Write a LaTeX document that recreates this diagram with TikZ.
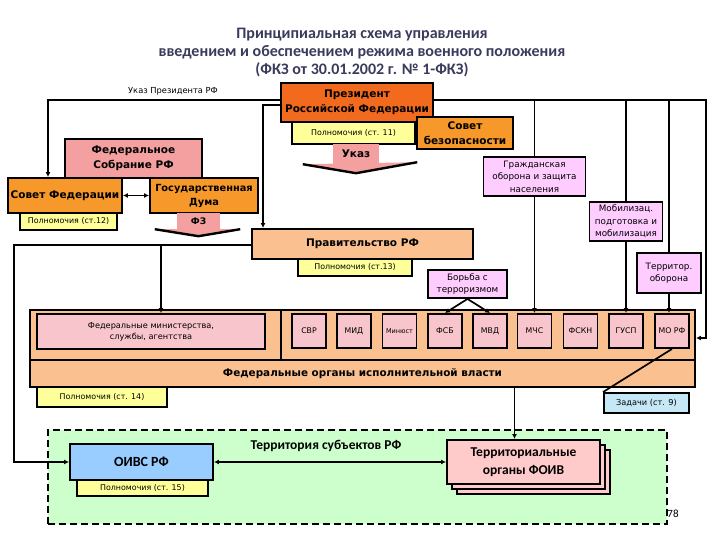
\documentclass[tikz,border=0pt]{standalone}
\usepackage{fontspec}
\setmainfont{Carlito}
\newfontfamily\vfont{DejaVu Sans}
\usetikzlibrary{arrows.meta}

\definecolor{titlecol}{HTML}{3A3A5C}
\definecolor{presred}{HTML}{F26A1E}
\definecolor{orangebox}{HTML}{F7982A}
\definecolor{salmon}{HTML}{F4A0A0}
\definecolor{peach}{HTML}{FAC08F}
\definecolor{polyel}{HTML}{FFFF99}
\definecolor{violet}{HTML}{FFCCFF}
\definecolor{minpink}{HTML}{F8C5CC}
\definecolor{zadblue}{HTML}{C6E8F6}
\definecolor{oivsblue}{HTML}{99CCFF}
\definecolor{greenbg}{HTML}{CCFFCC}
\definecolor{terrpink}{HTML}{FFCACA}

\begin{document}
\begin{tikzpicture}[x=1pt,y=-1pt,
  box/.style={draw, line width=1.9pt, inner sep=0pt, align=center},
  bigbox/.style={box, font=\vfont\bfseries\fontsize{10.5}{15}\selectfont},
  pol/.style={box, fill=polyel, font=\vfont\fontsize{7.9}{9}\selectfont},
  task/.style={box, fill=violet, font=\vfont\fontsize{8.8}{12.5}\selectfont},
  organ/.style={box, fill=minpink, minimum width=34pt, minimum height=34pt,
    font=\vfont\fontsize{7.8}{9}\selectfont},
  ln/.style={line width=1.7pt},
  arr/.style={line width=1.7pt, -{Latex[length=5pt,width=5pt]}},
  darr/.style={line width=1.7pt, {Latex[length=5pt,width=5pt]}-{Latex[length=5pt,width=5pt]}}]
\useasboundingbox (0,0) rectangle (720,540);

%title
\node[text=titlecol, font=\bfseries\fontsize{16}{18}\selectfont, align=center] (title) at (362,53)
  {Принципиальная схема управления\\введением и обеспечением режима военного положения\\(ФКЗ от 30.01.2002 г. № 1-ФКЗ)};

%president and upper part
\node[bigbox, fill=presred, minimum width=152pt, minimum height=39pt] (pres) at (357,102.5) {Президент\\Российской Федерации};
\node[pol, minimum width=123pt, minimum height=22pt] (pol11) at (353.5,133) {Полномочия (ст. 11)};
\node[bigbox, fill=orangebox, minimum width=96pt, minimum height=32pt] (sb) at (465,133) {Совет\\безопасности};
\node[font=\vfont\fontsize{8.3}{9}\selectfont] (ukazlbl) at (173,91) {Указ Президента РФ};

\node[fill=salmon, inner sep=0pt, minimum width=46pt, minimum height=20pt, font=\vfont\bfseries\fontsize{10.5}{11}\selectfont] (ukaz) at (356,154) {Указ};
\fill[salmon] ([xshift=-30pt]ukaz.south west) -- ([yshift=-9pt]ukaz.south) -- ([xshift=38pt,yshift=2pt]ukaz.south east) -- cycle;
\draw[line width=2.4pt] ([xshift=-30pt]ukaz.south west) -- ([yshift=-9pt]ukaz.south) -- ([xshift=38pt,yshift=2pt]ukaz.south east);

\node[bigbox, fill=salmon, minimum width=137pt, minimum height=39pt] (fs) at (133.5,158.5) {Федеральное\\Собрание РФ};
\node[bigbox, fill=orangebox, minimum width=114pt, minimum height=35pt] (sf) at (65,195.5) {Совет Федерации};
\node[pol, minimum width=97pt, minimum height=17pt] (pol12) at (68.5,221.5) {Полномочия (ст.12)};
\node[bigbox, fill=orangebox, minimum width=108pt, minimum height=35pt, font=\vfont\bfseries\fontsize{9.8}{14}\selectfont] (gd) at (204,195.5) {Государственная\\Дума};
\node[fill=salmon, inner sep=0pt, minimum width=43pt, minimum height=16pt, font=\vfont\bfseries\fontsize{9}{10}\selectfont] (fz) at (198.5,221) {ФЗ};
\fill[salmon] ([xshift=-22pt]fz.south west) -- ([yshift=-7pt]fz.south) -- ([xshift=20pt]fz.south east) -- cycle;
\draw[line width=2.4pt] ([xshift=-22pt]fz.south west) -- ([yshift=-7pt]fz.south) -- ([xshift=20pt]fz.south east);

\node[bigbox, fill=peach, minimum width=221pt, minimum height=30pt] (prav) at (362.5,244) {Правительство РФ};
\node[pol, minimum width=114pt, minimum height=17pt] (pol13) at (355,267.5) {Полномочия (ст.13)};

\node[task, minimum width=79pt, minimum height=28pt] (terror) at (467.5,284) {Борьба с\\терроризмом};
\node[task, minimum width=102pt, minimum height=39pt] (go) at (534.5,176.5) {Гражданская\\оборона и защита\\населения};
\node[task, minimum width=73pt, minimum height=39pt] (mob) at (626,221.5) {Мобилизац.\\подготовка и\\мобилизация};
\node[task, minimum width=64pt, minimum height=40pt] (tob) at (669,273) {Территор.\\оборона};

%federal organs
\node[box, fill=peach, minimum width=665pt, minimum height=77pt] (foiv) at (362.5,348.5) {};
\coordinate (divl) at (30,360);
\coordinate (divm) at (281,360);
\draw[line width=1.9pt] (divl) -- (divl -| foiv.east);
\draw[line width=1.9pt] (divm) -- (divm |- foiv.north);
\node[font=\vfont\bfseries\fontsize{10.4}{11}\selectfont] (foivlbl) at (362.5,373.5) {Федеральные органы исполнительной власти};
\node[box, fill=minpink, minimum width=228pt, minimum height=35pt, font=\vfont\fontsize{8.2}{11}\selectfont] (fm) at (151,331.5) {Федеральные министерства,\\службы, агентства};
\node[organ] (svr) at (309,331) {СВР};
\node[organ] (mid) at (354,331) {МИД};
\node[organ, font=\vfont\fontsize{6.5}{7}\selectfont] (minjust) at (399.5,331) {Минюст};
\node[organ] (fsb) at (445,331) {ФСБ};
\node[organ] (mvd) at (490,331) {МВД};
\node[organ] (mchs) at (534.5,331) {МЧС};
\node[organ] (fskn) at (580.5,331) {ФСКН};
\node[organ] (gusp) at (626,331) {ГУСП};
\node[organ] (morf) at (672,331) {МО РФ};
\node[pol, minimum width=130pt, minimum height=20pt] (pol14) at (102,397) {Полномочия (ст. 14)};
\node[box, fill=zadblue, minimum width=85pt, minimum height=20pt, font=\vfont\fontsize{8.2}{9}\selectfont] (zad) at (646.5,403) {Задачи (ст. 9)};

%subjects territory
\node[draw, line width=2pt, dash pattern=on 7pt off 4pt, fill=greenbg, minimum width=619pt, minimum height=94pt] (zone) at (357.5,477) {};
\node[font=\bfseries\fontsize{13.5}{14}\selectfont] (zonelbl) at (326,446) {Территория субъектов РФ};
\node[box, fill=oivsblue, minimum width=143pt, minimum height=36pt, font=\bfseries\fontsize{14}{15}\selectfont] (oivs) at (141.5,462) {ОИВС РФ};
\node[pol, minimum width=131pt, minimum height=16pt] (pol15) at (142.5,488) {Полномочия (ст. 15)};
\node[box, fill=terrpink, minimum width=153pt, minimum height=44pt] at (533.5,472) {};
\node[box, fill=terrpink, minimum width=153pt, minimum height=44pt] at (528.5,467) {};
\node[box, fill=terrpink, minimum width=153pt, minimum height=44pt, font=\bfseries\fontsize{13.5}{18}\selectfont] (tfoiv) at (523.5,462) {Территориальные\\органы ФОИВ};
\node[font=\fontsize{11}{12}\selectfont] (pagenum) at (673,514) {78};

%connectors
\coordinate (ul) at (48,100);
\coordinate (ui) at (263,105);
\coordinate (ur) at (706,100);
\coordinate (mr) at (706,338);
\coordinate (ll) at (14,245);
\coordinate (lb) at (14,462);
\draw[arr] (pres.west |- ul) -- (ul) -- (ul |- sf.north);
\draw[arr] (pres.west |- ui) -- (ui) -- (ui |- prav.north);
\draw[arr] (pres.east |- ur) -- (ur) -- (mr) -- (mr -| foiv.east);
\draw[ln] (go.north |- ur) -- (go.north);
\draw[ln] (mob.north |- ur) -- (mob.north);
\draw[ln] (tob.north |- ur) -- (tob.north);
\draw[arr] (go.south) -- (mchs.north);
\draw[arr] (mob.south) -- (gusp.north);
\draw[arr] (tob.south) -- (tob.south |- morf.north);
\draw[darr] (sf.east) -- (gd.west);
\draw[arr] (terror.south) -- (fsb.north);
\draw[arr] (terror.south) -- (mvd.north);
\draw[arr] (prav.west |- ll) -- (ll) -- (lb) -- (oivs.west);
\draw[arr] ([xshift=10pt]fm.north |- ll) -- ([xshift=10pt]fm.north);
\draw[ln] (zad.north west) -- (morf.south);
\draw[arr] ([xshift=-9pt]tfoiv.north |- foiv.south) -- ([xshift=-9pt]tfoiv.north);
\draw[darr] (oivs.east) -- (tfoiv.west);
\end{tikzpicture}
\end{document}
